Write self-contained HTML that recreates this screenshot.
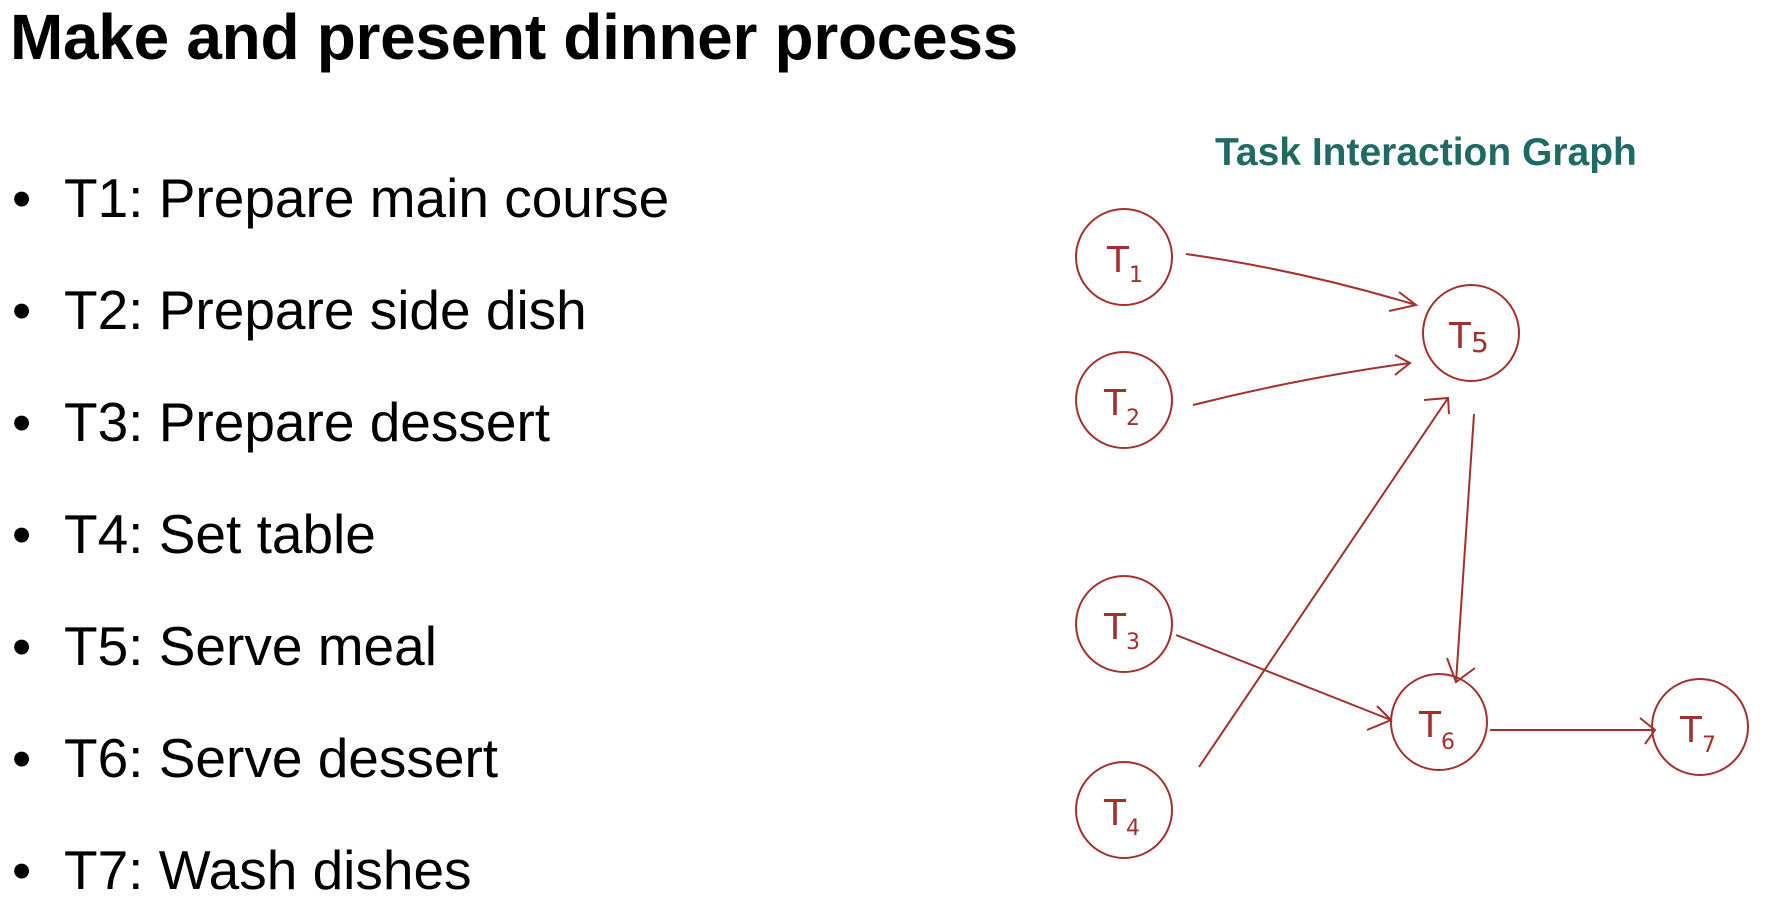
<!DOCTYPE html>
<html><head><style>
body{margin:0;width:1765px;height:897px;background:#fff;overflow:hidden;position:relative;font-family:"Liberation Sans",sans-serif}
h1{position:absolute;left:10px;top:0px;margin:0;font-size:64px;font-weight:bold;color:#000;letter-spacing:-0.3px}
.li{position:absolute;left:12px;font-size:55px;color:#000;white-space:nowrap}
.li span{display:inline-block;width:52px}
</style></head><body>
<h1>Make and present dinner process</h1>
<div class="li" style="top:166px"><span>•</span>T1: Prepare main course</div>
<div class="li" style="top:278px"><span>•</span>T2: Prepare side dish</div>
<div class="li" style="top:390px"><span>•</span>T3: Prepare dessert</div>
<div class="li" style="top:502px"><span>•</span>T4: Set table</div>
<div class="li" style="top:614px"><span>•</span>T5: Serve meal</div>
<div class="li" style="top:726px"><span>•</span>T6: Serve dessert</div>
<div class="li" style="top:838px"><span>•</span>T7: Wash dishes</div>
<svg width="1765" height="897" style="position:absolute;left:0;top:0">
<text x="1215" y="165" font-family="Liberation Sans" font-weight="bold" font-size="39" fill="#1f6b63">Task Interaction Graph</text>
<g fill="none" stroke="#a3302c" stroke-width="2">
<circle cx="1124" cy="257" r="48"/>
<circle cx="1124" cy="400" r="48"/>
<circle cx="1124" cy="624" r="48"/>
<circle cx="1124" cy="810" r="48"/>
<circle cx="1471" cy="333" r="48"/>
<circle cx="1439" cy="722" r="48"/>
<circle cx="1700" cy="727" r="48"/>
<path d="M1186 254 Q1300 270 1416 305"/><path d="M1399 292 L1416 305 L1389 311"/>
<path d="M1193 405 Q1300 378 1410 363"/><path d="M1395 355 L1410 363 L1395 375"/>
<path d="M1199 767 L1448 398"/><path d="M1424 400 L1448 398 L1449 414"/>
<path d="M1474 414 L1456 682"/><path d="M1447 658 L1456 682 L1475 668"/>
<path d="M1176 635 L1391 720"/><path d="M1367 730 L1391 720 L1377 706"/>
<path d="M1490 730 L1655 730"/><path d="M1640 718 L1655 730 L1645 744"/>
</g>
<g font-family="DejaVu Sans" font-size="36" fill="#a3302c">
<text x="1107" y="272">T<tspan font-size="22" dy="10">1</tspan></text>
<text x="1104" y="415">T<tspan font-size="22" dy="10">2</tspan></text>
<text x="1104" y="639">T<tspan font-size="22" dy="10">3</tspan></text>
<text x="1104" y="825">T<tspan font-size="22" dy="10">4</tspan></text>
<text x="1449" y="348">T<tspan font-size="28" dy="4">5</tspan></text>
<text x="1419" y="737">T<tspan font-size="22" dy="12">6</tspan></text>
<text x="1680" y="742">T<tspan font-size="22" dy="10">7</tspan></text>
</g>
</svg>
</body></html>
